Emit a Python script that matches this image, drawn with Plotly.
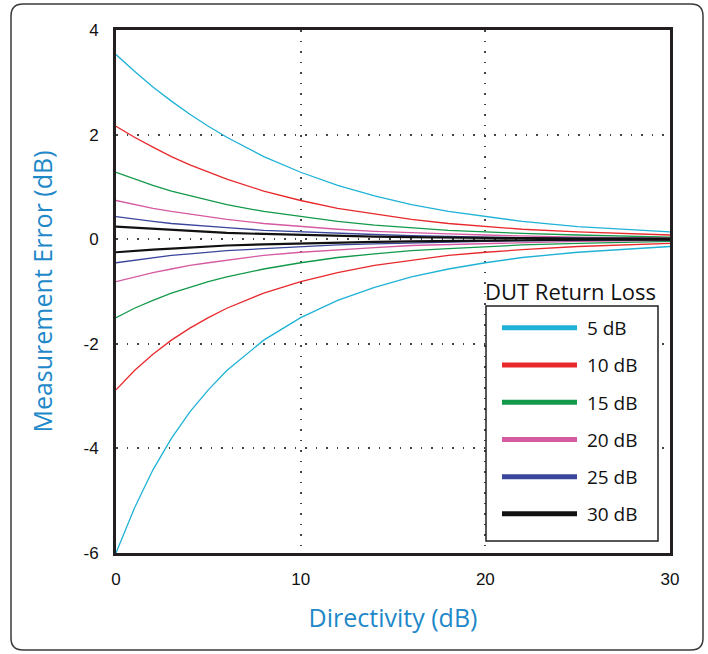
import plotly.graph_objects as go

# ---------------- data ----------------
directivity = [0, 1, 2, 3, 4, 5, 6, 8, 10, 12, 14, 16, 18, 20, 22, 25, 30]
series_names = ["5 dB", "10 dB", "15 dB", "20 dB", "25 dB", "30 dB"]

rl5_upper = [3.53, 3.21, 2.91, 2.64, 2.39, 2.16, 1.95, 1.58, 1.28, 1.03, 0.83, 0.66, 0.53, 0.43, 0.34, 0.24, 0.14]
rl5_lower = [-6.00, -5.14, -4.41, -3.81, -3.30, -2.88, -2.51, -1.93, -1.50, -1.17, -0.92, -0.72, -0.57, -0.45, -0.35, -0.25, -0.14]

rl10_upper = [2.16, 1.95, 1.76, 1.58, 1.42, 1.28, 1.15, 0.92, 0.74, 0.59, 0.48, 0.38, 0.30, 0.24, 0.19, 0.14, 0.08]
rl10_lower = [-2.88, -2.51, -2.20, -1.93, -1.70, -1.50, -1.32, -1.03, -0.81, -0.64, -0.50, -0.40, -0.31, -0.25, -0.20, -0.14, -0.08]

rl15_upper = [1.28, 1.15, 1.03, 0.92, 0.83, 0.74, 0.66, 0.53, 0.43, 0.34, 0.27, 0.22, 0.17, 0.14, 0.11, 0.08, 0.04]
rl15_lower = [-1.50, -1.32, -1.17, -1.03, -0.92, -0.81, -0.72, -0.57, -0.45, -0.35, -0.28, -0.22, -0.18, -0.14, -0.11, -0.08, -0.04]

rl20_upper = [0.74, 0.66, 0.59, 0.53, 0.48, 0.43, 0.38, 0.30, 0.24, 0.19, 0.15, 0.12, 0.10, 0.08, 0.06, 0.04, 0.02]
rl20_lower = [-0.81, -0.72, -0.64, -0.57, -0.50, -0.45, -0.40, -0.31, -0.25, -0.20, -0.16, -0.12, -0.10, -0.08, -0.06, -0.04, -0.02]

rl25_upper = [0.43, 0.38, 0.34, 0.30, 0.27, 0.24, 0.22, 0.17, 0.14, 0.11, 0.09, 0.07, 0.05, 0.04, 0.03, 0.02, 0.01]
rl25_lower = [-0.45, -0.40, -0.35, -0.31, -0.28, -0.25, -0.22, -0.18, -0.14, -0.11, -0.09, -0.07, -0.06, -0.04, -0.03, -0.02, -0.01]

rl30_upper = [0.24, 0.22, 0.19, 0.17, 0.15, 0.14, 0.12, 0.10, 0.08, 0.06, 0.05, 0.04, 0.03, 0.02, 0.02, 0.01, 0.01]
rl30_lower = [-0.25, -0.22, -0.20, -0.18, -0.16, -0.14, -0.12, -0.10, -0.08, -0.06, -0.05, -0.04, -0.03, -0.02, -0.02, -0.01, -0.01]

x_ticks = [0, 10, 20, 30]
x_tick_labels = ["0", "10", "20", "30"]
y_ticks = [-6, -4, -2, 0, 2, 4]
y_tick_labels = ["-6", "-4", "-2", "0", "2", "4"]

# ---------------- styling ----------------
colors = ["#1FB2D6", "#E8292C", "#12994A", "#D55AA0", "#3A469C", "#111111"]
widths = [1.3, 1.3, 1.3, 1.3, 1.3, 2.2]
uppers = [rl5_upper, rl10_upper, rl15_upper, rl20_upper, rl25_upper, rl30_upper]
lowers = [rl5_lower, rl10_lower, rl15_lower, rl20_lower, rl25_lower, rl30_lower]

TEXT_FONT = "Open Sans"
TICK_FONT = "Liberation Sans"

W, H = 708, 654
ML, MR, MT, MB = 116, 38, 30, 101
PW, PH = W - ML - MR, H - MT - MB


def px(x):
    return (x - ML) / PW


def py(y):
    return (H - MB - y) / PH


fig = go.Figure()

for name, col, w, up, lo in zip(series_names, colors, widths, uppers, lowers):
    fig.add_trace(go.Scatter(
        x=directivity + [None] + directivity,
        y=up + [None] + lo,
        mode="lines", line=dict(color=col, width=w),
        showlegend=False, hoverinfo="skip", connectgaps=False,
    ))

# legend entries (thick swatches)
for i, (name, col) in enumerate(zip(series_names, colors)):
    fig.add_trace(go.Scatter(
        x=[None], y=[None], mode="lines", name="\u00a0" + name,
        line=dict(color=col, width=5), legendgroup=f"g{i}",
    ))

# outer rounded frame
r = 12
x0, y0, x1, y1 = 11, 4, 703, 650
path = (f"M {px(x0 + r)},{py(y0)} L {px(x1 - r)},{py(y0)} "
        f"Q {px(x1)},{py(y0)} {px(x1)},{py(y0 + r)} "
        f"L {px(x1)},{py(y1 - r)} Q {px(x1)},{py(y1)} {px(x1 - r)},{py(y1)} "
        f"L {px(x0 + r)},{py(y1)} Q {px(x0)},{py(y1)} {px(x0)},{py(y1 - r)} "
        f"L {px(x0)},{py(y0 + r)} Q {px(x0)},{py(y0)} {px(x0 + r)},{py(y0)} Z")

fig.add_shape(type="path", path=path, xref="paper", yref="paper",
              line=dict(color="#3a3a3a", width=1.5), layer="below")

# legend box
fig.add_shape(type="rect", xref="paper", yref="paper",
              x0=px(486), x1=px(658), y0=py(541), y1=py(306),
              line=dict(color="#231f20", width=1.5), fillcolor="white",
              layer="above")

fig.add_annotation(text="DUT Return Loss", xref="paper", yref="paper",
                   x=px(483), y=py(291), xanchor="left", yanchor="middle",
                   showarrow=False, font=dict(size=22, color="#111111", family=TEXT_FONT))

fig.update_layout(
    width=W, height=H,
    margin=dict(l=ML, r=MR, t=MT, b=MB),
    paper_bgcolor="white", plot_bgcolor="white",
    font=dict(family=TEXT_FONT, color="#111111"),
    showlegend=True,
    legend=dict(
        x=px(497), y=py(309), xanchor="left", yanchor="top",
        bgcolor="rgba(0,0,0,0)", borderwidth=0,
        font=dict(size=19, color="#111111", family=TEXT_FONT),
        itemwidth=75, traceorder="grouped", tracegroupgap=9.5,
    ),
)

fig.update_xaxes(
    range=[0, 30], tickvals=x_ticks, ticktext=x_tick_labels, ticks="", ticklabelstandoff=9,
    tickfont=dict(size=17, color="#111111", family=TICK_FONT),
    showgrid=True, gridcolor="#444444", gridwidth=1.5, griddash="1.5px,9px",
    zeroline=False, showline=True, mirror=True, linecolor="#231f20", linewidth=3,
    title=dict(text="Directivity (dB)", font=dict(size=25, color="#1E88C8", family=TEXT_FONT), standoff=22),
)
fig.update_yaxes(
    range=[-6, 4], tickvals=y_ticks, ticktext=y_tick_labels, ticks="", ticklabelstandoff=11,
    tickfont=dict(size=17, color="#111111", family=TICK_FONT),
    showgrid=True, gridcolor="#444444", gridwidth=1.5, griddash="1.5px,9px",
    zeroline=False, showline=True, mirror=True, linecolor="#231f20", linewidth=3,
    title=dict(text="Measurement Error (dB)", font=dict(size=25, color="#1E88C8", family=TEXT_FONT), standoff=24),
)

fig.write_html("out.html")
